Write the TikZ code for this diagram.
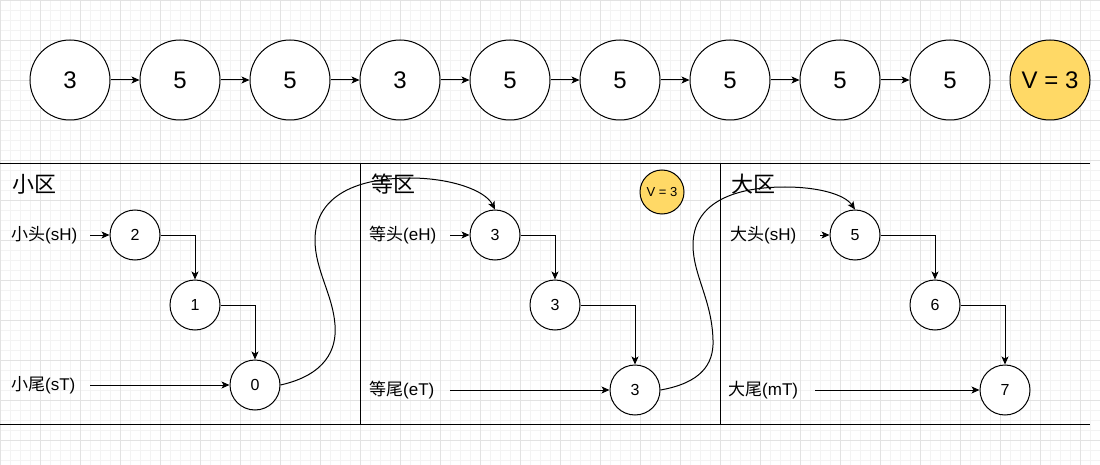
\documentclass[tikz,border=0pt]{standalone}
\usepackage{fontspec}
\setmainfont{Liberation Sans}
\newfontfamily\cjk{Noto Sans CJK SC}
\usetikzlibrary{arrows.meta}
\definecolor{gridminor}{HTML}{F3F3F3}
\definecolor{gridmajor}{HTML}{E2E2E2}
\definecolor{vyellow}{HTML}{FFD966}
\begin{document}
\begin{tikzpicture}[x=1pt,y=-1pt,
  every node/.style={inner sep=0pt},
  arr/.style={-{Stealth[length=8pt,width=7pt,inset=2pt]},line width=1pt},
  bigcirc/.style={circle,draw,line width=1pt,fill=white,minimum size=80pt,font=\fontsize{24}{28}\selectfont},
  smallcirc/.style={circle,draw,line width=1pt,fill=white,minimum size=50pt,font=\fontsize{16}{19}\selectfont},
  lbl/.style={anchor=west,font=\fontsize{17}{20}\selectfont},
  ttl/.style={anchor=west,font=\fontsize{22}{26}\selectfont\cjk},
  sep/.style={line width=1pt}]
\useasboundingbox (0,0) rectangle (1100,465);
\fill[white] (0,0) rectangle (1100,465);
% grid
\foreach \x in {0,10,...,1100} \draw[gridminor,line width=0.8pt] (\x,0) -- (\x,465);
\foreach \y in {0,10,...,460} \draw[gridminor,line width=0.8pt] (0,\y) -- (1100,\y);
\foreach \x in {0,40,...,1100} \draw[gridmajor,line width=0.8pt] (\x,0) -- (\x,465);
\foreach \y in {0,40,...,460} \draw[gridmajor,line width=0.8pt] (0,\y) -- (1100,\y);

% top row
\node[bigcirc] (t1) at (70,80) {3};
\node[bigcirc] (t2) at (180,80) {5};
\node[bigcirc] (t3) at (290,80) {5};
\node[bigcirc] (t4) at (400,80) {3};
\node[bigcirc] (t5) at (510,80) {5};
\node[bigcirc] (t6) at (620,80) {5};
\node[bigcirc] (t7) at (730,80) {5};
\node[bigcirc] (t8) at (840,80) {5};
\node[bigcirc] (t9) at (950,80) {5};
\node[bigcirc,fill=vyellow] (tv) at (1050,80) {V = 3};
\foreach \a/\b in {t1/t2,t2/t3,t3/t4,t4/t5,t5/t6,t6/t7,t7/t8,t8/t9}
  \draw[arr] (\a.east) -- (\b.west);

% separators
\coordinate (L1) at (0,164); \coordinate (R1) at (1090,164);
\coordinate (L2) at (0,424); \coordinate (R2) at (1090,424);
\draw[sep] (L1) -- (R1);
\draw[sep] (L2) -- (R2);
\coordinate (V1t) at (360,164); \coordinate (V1b) at (360,424);
\coordinate (V2t) at (720,164); \coordinate (V2b) at (720,424);
\draw[sep] (V1t) -- (V1b);
\draw[sep] (V2t) -- (V2b);

% section 1
\node[ttl] (ts) at (12,184) {小区};
\node[lbl] (lsh) at (11,235) {{\cjk 小头}(sH)};
\node[lbl] (lst) at (11,385) {{\cjk 小尾}(sT)};
\node[smallcirc] (s2) at (135,235) {2};
\node[smallcirc] (s1) at (195,305) {1};
\node[smallcirc] (s0) at (255,385) {0};
\coordinate (ash) at (90,235);
\coordinate (ast) at (90,385);
\draw[arr] (ash) -- (s2.west);
\draw[arr] (ast) -- (s0.west);
\draw[arr] (s2.east) -| (s1.north);
\draw[arr] (s1.east) -| (s0.north);

% section 2
\node[ttl] (te) at (371,184) {等区};
\node[lbl] (leh) at (369,235) {{\cjk 等头}(eH)};
\node[lbl] (let) at (369,390) {{\cjk 等尾}(eT)};
\node[smallcirc] (e1) at (495,235) {3};
\node[smallcirc] (e2) at (555,305) {3};
\node[smallcirc] (e3) at (635,390) {3};
\node[circle,draw,line width=1pt,fill=vyellow,minimum size=44pt,font=\fontsize{13}{15}\selectfont] (sv) at (662,192) {V = 3};
\coordinate (aeh) at (450,235);
\coordinate (aet) at (450,390);
\draw[arr] (aeh) -- (e1.west);
\draw[arr] (aet) -- (e3.west);
\draw[arr] (e1.east) -| (e2.north);
\draw[arr] (e2.east) -| (e3.north);

% section 3
\node[ttl] (tb) at (731,184) {大区};
\node[lbl] (lbh) at (730,235) {{\cjk 大头}(sH)};
\node[lbl] (lbt) at (728,390) {{\cjk 大尾}(mT)};
\node[smallcirc] (b1) at (855,235) {5};
\node[smallcirc] (b2) at (935,305) {6};
\node[smallcirc] (b3) at (1005,390) {7};
\coordinate (abh) at (820,235);
\coordinate (abt) at (815,390);
\draw[arr] (abh) -- (b1.west);
\draw[arr] (abt) -- (b3.west);
\draw[arr] (b1.east) -| (b2.north);
\draw[arr] (b2.east) -| (b3.north);

% curved links
\draw[arr] (s0.east) .. controls (325,375) and (337,350) .. (335,325)
  .. controls (333,295) and (315,270) .. (315,240)
  .. controls (315,200) and (350,178) .. (410,178)
  .. controls (450,178) and (485,190) .. (e1.north);
\draw[arr] (e3.east) .. controls (700,383) and (714,365) .. (713,340)
  .. controls (712,300) and (693,275) .. (693,245)
  .. controls (693,205) and (730,187) .. (785,187)
  .. controls (820,187) and (845,195) .. (b1.north);
\end{tikzpicture}
\end{document}
